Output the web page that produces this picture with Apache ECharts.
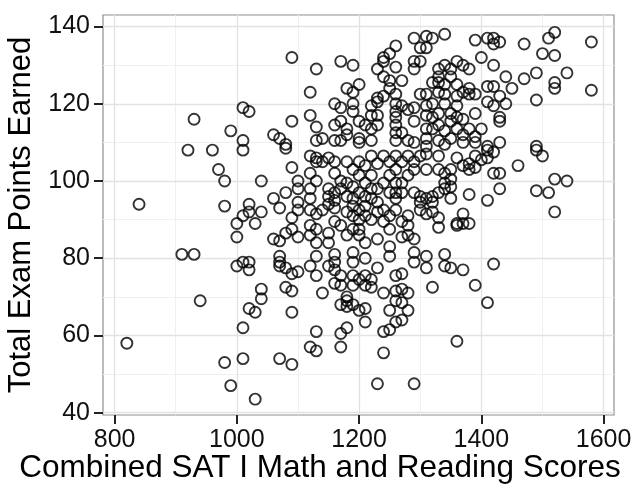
<!DOCTYPE html>
<html><head><meta charset="utf-8">
<script src="https://cdn.jsdelivr.net/npm/echarts@6/dist/echarts.min.js"></script>
<style>html,body{margin:0;padding:0;background:#fff}#c{width:636px;height:489px}</style>
</head><body><div id="c"></div>
<script>
const satScores = [
930,1010,1020,990,1010,1010,920,960,
970,980,1040,840,980,1020,1010,1020,1030,1040,1000,1000,910,930,1000,1010,1020,1020,
940,1040,1040,1020,1030,1010,820,980,1010,990,1030,
1080,1090,1090,1140,1160,1170,1190,1210,1220,1180,1170,1180,1190,1180,1200,1210,1210,1180,1170,1130,1120,1130,1170,1070,1090,1240,1260,1270,1280,1260,1270,1250,1280,1270,1260,1250,1240,1240,1230,1290,
1320,1390,1410,1360,
1490,1500,1460,1520,1540,1490,1510,1520,1430,1410,1420,1430,1380,1350,1370,1360,1370,1380,1360,1330,1330,1320,1310,1300,1320,1320,1310,1350,1340,1330,1350,1340,1310,1330,1340,1350,1330,1360,1370,1380,1390,1400,1380,1390,1410,1420,1410,1310,1310,1340,1310,1340,1350,1370,1420,
1580,1580,
1310,1320,1340,1310,1300,1390,1410,1420,1420,1430,1470,1510,1520,1500,1520,1400,1420,1440,1450,1470,1490,1540,1520,1520,1490,1440,1430,1420,1410,1410,1420,1430,1430,1430,1410,1390,1400,1490,
1340,1360,1370,1380,1350,1330,1330,1330,1340,1360,1350,1380,1380,1370,1390,1360,1340,1330,1310,1320,1310,1340,1360,1350,1330,1320,1310,1310,1330,1350,1360,1370,1380,1360,1340,1320,1310,1330,1350,1370,1390,1370,1390,1340,1310,1320,
1090,1130,1170,1190,1120,1180,1200,1190,1160,1170,1190,1190,1120,1090,1130,1060,1070,1080,1160,1170,1180,1200,1210,1220,1230,1230,1220,1230,1240,1240,1250,1260,1260,1240,1250,1270,1250,1260,1230,1240,1260,1260,1260,1260,1260,1260,1270,1280,1290,1290,1300,1290,1290,1300,1290,1270,1280,1290,1130,1140,1160,1170,1180,1200,1200,1220,1230,1220,
1080,1090,1060,1070,1080,1100,1100,1100,1100,1120,1120,1120,1130,1120,1090,1130,1140,1130,1120,1130,1140,1150,1160,1160,1150,1150,1160,1160,1150,1160,1170,1170,1180,1190,1200,1180,1190,1200,1210,1200,1210,1220,1220,1230,1240,1250,1260,1260,1270,1280,1290,1280,1270,1260,1260,1290,1300,1280,1270,1280,1260,1250,1240,1230,1220,1210,1200,1190,1180,1190,1200,1210,1220,1230,1240,1250,1200,1200,1190,1180,1170,1160,1150,1130,1080,1090,1100,1060,1070,1120,1130,1150,1210,1230,1250,1270,1280,1290,1290,1290,1250,1260,1270,1230,1210,1190,1190,1160,1160,1150,1130,1120,1130,1100,1090,1080,1070,1070,1070,1190,1200,1210,1170,1160,1220,1300,1290,1300,1260,1250,1240,1230,1250,1270,1220,1210,1190,1180,1120
];
const examPoints = [
116,119,118,113,110.5,108,108,108,
103,100,100,94,93.5,94,91,92,89,92,89,85.5,81,81,78,79,79,77,
69,72,69.5,67,66,62,58,53,54,47,43.5,
72.5,71.5,66,71,73.5,73,73,73,72.5,70,68,67.5,68,69,66.5,67,63.5,62,60.5,61,57,56,57,54,52.5,71,71.5,72,71,69,68.5,66.5,66.5,64,63.5,61.5,61,55.5,47.5,47.5,
72.5,73,68.5,58.5,
108,106.5,104,100.5,100,97.5,97,92,98,95,102,102,96.5,95.5,91.5,89,89,89,88.5,88,90.5,92,91.5,94.5,96,94.5,95.5,98.5,98,97,100.5,99.5,103,103,102,103,106.5,106,104,104.5,103.5,105.5,103,106.5,106,107.5,108,107,80.5,81,77.5,78,77.5,77,78.5,
136,123.5,
137.5,137,138,134.5,131,136.5,137,137,135.5,136,135.5,137,138.5,133,132.5,132,130,127,124,126.5,128,128,125.5,124,121,120,122,124.5,124.5,120.5,119.5,116.5,115.5,110,109,117.5,113.5,109,
130,131,130,129,129,129,127,125.5,125,125,127,124,122.5,123,122.5,122,122.5,123,122.5,120,119.5,120,119.5,117.5,117.5,116.5,117,113.5,114.5,115.5,116.5,116,113.5,113.5,113,113.5,111,110.5,111,112,111.5,110,110,109.5,109,125.5,
132,129,131,130,123,124,125,123,120,119,120,118,117,115.5,114,112,111,109.5,114.5,115.5,113.5,115.5,114.5,119.5,120.5,117,117,129,132,131,133,135,129.5,127,126,126,124,122.5,121.5,122,120,118,116.5,114.5,112.5,110.5,119.5,118.5,119,115.5,122.5,131,129,134.5,137,112.5,110.5,110,110.5,111,110.5,110.5,112,111,110,110.5,114.5,113.5,
108.5,103.5,95.5,93,97,100,98,94.5,92.5,102,95.5,92.5,100,88.5,90.5,91.5,92.5,105,106.5,106,105,106,105,102,98,96,97,95,94,93,98,100,99.5,98.5,97,105,103,105,104,101.5,99.5,101.5,106.5,104.5,106.5,105,106.5,103,105,106.5,105,101.5,99.5,99.5,97,97,92.5,91,89.5,88.5,92.5,91,92.5,94.5,95.5,93.5,92.5,93.5,92,91,90,91,90,92,89.5,87.5,87.5,86,87.5,86,88.5,89.5,86.5,87.5,86.5,87.5,85.5,85,84.5,86,84,84,84,85,83,85.5,86,85,81.5,79,80.5,75.5,76,77.5,80,81.5,79,81,79,78,80.5,78,75.5,76.5,76,77.5,80.5,79,78,75.5,74.5,75.5,75.5,77,74.5,96,103,106.5,95.5,97,99.5,98,101.5,97,98,96,95.5,96,98
];
const xTicks = [800, 1000, 1200, 1400, 1600];
const xMinor = [900, 1100, 1300, 1500];
const yTicks = [40, 60, 80, 100, 120, 140];
const yMinor = [50, 70, 90, 110, 130];
const xTitle = 'Combined SAT I Math and Reading Scores';
const yTitle = 'Total Exam Points Earned';

const points = satScores.map((s, i) => [s, examPoints[i]]);
const FONT = '"Liberation Sans", Arial, sans-serif';
const majorStyle = {color: '#e2e2e2', width: 1.3, type: 'solid'};
const minorStyle = {color: '#f0f0f0', width: 1, type: 'solid'};
const gridLines = []
  .concat(xMinor.map(v => ({xAxis: v, lineStyle: minorStyle})))
  .concat(yMinor.map(v => ({yAxis: v, lineStyle: minorStyle})))
  .concat(xTicks.map(v => ({xAxis: v, lineStyle: majorStyle})))
  .concat(yTicks.map(v => ({yAxis: v, lineStyle: majorStyle})));

const chart = echarts.init(document.getElementById('c'), null, {renderer: 'canvas'});
chart.setOption({
  animation: false,
  backgroundColor: '#ffffff',
  grid: {left: 103, top: 15, width: 511, height: 400, show: true, borderColor: '#8f8f8f', borderWidth: 1.2,
         backgroundColor: 'transparent', containLabel: false, outerBoundsMode: 'none'},
  graphic: [{
    type: 'text', x: 320, y: 452, silent: true,
    style: {text: xTitle, fill: '#000', font: '31.5px "Liberation Sans", Arial, sans-serif', textAlign: 'center', textVerticalAlign: 'top'}
  }],
  xAxis: {
    type: 'value', min: 781, max: 1617,
    axisLine: {show: false},
    axisTick: {show: true, customValues: xTicks, length: 9, lineStyle: {color: '#222', width: 2}},
    axisLabel: {customValues: xTicks, formatter: v => String(v), fontFamily: FONT, fontSize: 25, color: '#111', margin: 13},
    splitLine: {show: false}
  },
  yAxis: {
    type: 'value', min: 39.4, max: 143,
    name: yTitle, nameLocation: 'middle', nameGap: 63,
    nameTextStyle: {fontFamily: FONT, fontSize: 31, color: '#000'},
    axisLine: {show: false},
    axisTick: {show: true, customValues: yTicks, length: 9, lineStyle: {color: '#222', width: 2}},
    axisLabel: {customValues: yTicks, formatter: v => String(v), fontFamily: FONT, fontSize: 25, color: '#111', margin: 13},
    splitLine: {show: false}
  },
  series: [
    {
      type: 'scatter', data: [], silent: true, z: 1,
      markLine: {silent: true, symbol: 'none', label: {show: false}, animation: false, data: gridLines}
    },
    {
      type: 'scatter', data: points, z: 5,
      symbol: 'circle', symbolSize: 11,
      itemStyle: {color: 'rgba(0,0,0,0)', borderColor: '#000', borderWidth: 1.9}
    }
  ]
});
</script></body></html>
